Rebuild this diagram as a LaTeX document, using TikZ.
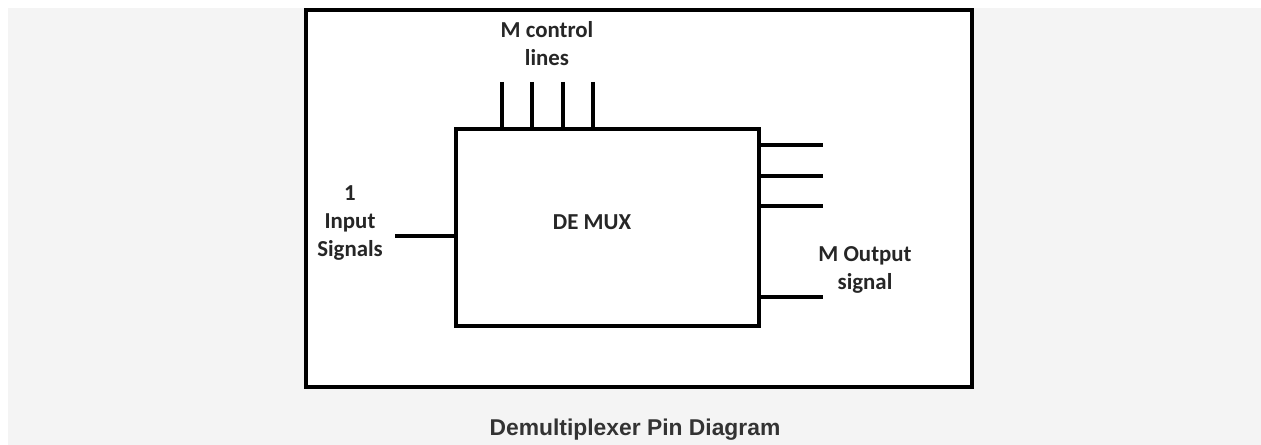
\documentclass[tikz,border=0pt]{standalone}
\usepackage{fontspec}
\setmainfont{Carlito}
\newfontfamily\captionfont{Liberation Sans}
\usepackage{xcolor}
\definecolor{pagegray}{RGB}{244,244,244}
\definecolor{captiongray}{RGB}{51,51,51}
\usepackage{tikz}
\usetikzlibrary{positioning,calc}

\begin{document}
\begin{tikzpicture}[
  x=0.02cm, y=-0.02cm,
  pin/.style={line width=2.1pt, black},
  lbl/.style={align=center, font=\fontsize{13}{15.9}\selectfont\bfseries, text=black!85},
  chipbox/.style={draw, line width=2.1pt, minimum width=6.06cm, minimum height=3.94cm, inner sep=0pt}
]
  \useasboundingbox (0,0) rectangle (1261,445);
  \fill[pagegray] (8,8) rectangle (1261,445);
  \draw[line width=2.6pt, fill=white] (306,10) rectangle (972,387);

  % the chip
  \node[chipbox] (demux) at (607.5,227.5) {};
  \node[lbl] (name) at (592,222) {DE MUX};

  % control lines on top
  \foreach \i/\px in {1/502, 2/532, 3/563, 4/593} {
    \coordinate (c\i) at (\px,82);
    \draw[pin] (c\i) -- (c\i |- demux.north);
  }
  \node[lbl] (ctrl) at (547,44) {M control\\lines};

  % input
  \coordinate (in) at (395,236);
  \draw[pin] (in) -- (in -| demux.west);
  \node[lbl] (inlbl) at (350,223) {1\\Input\\Signals};

  % outputs
  \foreach \i/\py in {1/145, 2/176, 3/206, 4/297} {
    \coordinate (o\i) at (823,\py);
    \draw[pin] (demux.east |- o\i) -- (o\i);
  }
  \node[lbl] (outlbl) at (865,270) {M Output\\signal};

  \node[font=\captionfont\fontsize{13}{15}\selectfont\bfseries, text=captiongray] (cap) at (635,430) {Demultiplexer Pin Diagram};
\end{tikzpicture}
\end{document}
